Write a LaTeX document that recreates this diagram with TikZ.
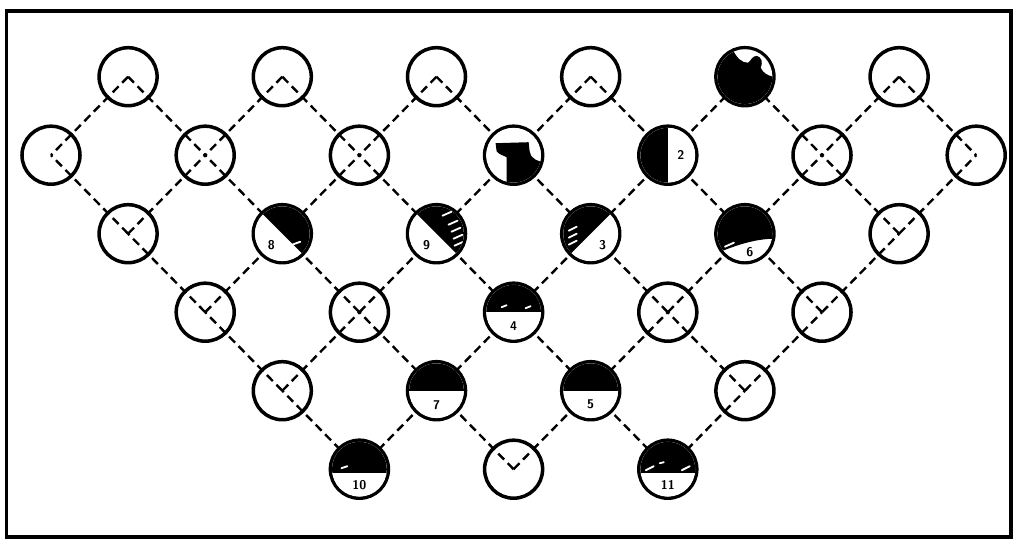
\documentclass[tikz,border=0pt]{standalone}
\usetikzlibrary{calc,backgrounds}
% dark part of a marked spot, drawn in the spot's own (pixel) frame
\newcommand{\markspot}[2]{%
  \begin{scope}[shift={(#1.center)}]
    \clip (0,0) circle[radius=0.685cm];
    \fill[white] (-35,-35) rectangle (35,35);
    #2
  \end{scope}}

\begin{document}
\begin{tikzpicture}[x=0.025cm,y=0.025cm]
	\tikzstyle{spot} = [circle, draw=black, line width=2.5pt, minimum size=1.45cm, inner sep=0pt];
	\tikzstyle{link} = [line width=1.7pt, dash pattern=on 6pt off 3.6pt];
	\tikzstyle{hatch} = [white, line width=1.3pt, line cap=round];
	\tikzstyle{num} = [font=\sffamily\bfseries\small, inner sep=0pt];
	\useasboundingbox (0,0) rectangle (1016,542);
	\draw[line width=2.5pt] (6.5,5) rectangle (1011,531);
	% the spots, row by row
	\foreach \r/\cols in {0/{1,3,5,7,9,11},1/{0,2,4,6,8,10,12},2/{1,3,5,7,9,11},3/{2,4,6,8,10},4/{3,5,7,9},5/{4,6,8}}
		\foreach \c in \cols
			\node (r\r c\c) [spot] at ({51+77.1*\c},{465.3-78.5*\r}) {};
	% dashed lattice behind the spots
	\begin{scope}[on background layer]
		\foreach \c in {1,3,5,7,9,11} {
			\pgfmathtruncatemacro{\lc}{\c-1}
			\pgfmathtruncatemacro{\rc}{\c+1}
			\draw[link] (r0c\c.center) -- (r1c\lc.center);
			\draw[link] (r0c\c.center) -- (r1c\rc.center);
		}
		\foreach \r/\ur/\cols in {2/1/{1,3,5,7,9,11},3/2/{2,4,6,8,10},4/3/{3,5,7,9},5/4/{4,6,8}}
			\foreach \c in \cols {
				\pgfmathtruncatemacro{\lc}{\c-1}
				\pgfmathtruncatemacro{\rc}{\c+1}
				\draw[link] (r\r c\c.center) -- (r\ur c\lc.center);
				\draw[link] (r\r c\c.center) -- (r\ur c\rc.center);
			}
	\end{scope}
	% marked spots
	\markspot{r0c9}{\fill (-35,-35) rectangle (35,35);
		\fill[white] (-14,35) -- (-12,27) .. controls (-8,19) and (-3,14) .. (3,14) .. controls (6,16) and (7,21) .. (12,21) .. controls (17,20) and (18,14) .. (16,9) .. controls (18,4) and (23,1) .. (29,0) -- (35,0) -- (35,35) -- cycle;}
	\markspot{r1c6}{\fill (-7,-35) -- (-7,-2) .. controls (-11,0) and (-15,1) .. (-17,4) -- (-18,12) -- (15,13) -- (16,4) .. controls (17,-3) and (22,-6) .. (35,-8) -- (35,-35) -- cycle;}
	\markspot{r1c8}{\fill (-35,-35) rectangle (0,35);}
	\markspot{r2c3}{\fill (-35,35) -- (35,-35) -- (35,35) -- cycle;
		\draw[hatch] (10,-11) -- ++(8,3);}
	\markspot{r2c5}{\fill (-35,35) -- (35,-35) -- (35,35) -- cycle;
		\foreach \hx/\hy in {6/18,12/9,15/2,17/-5,18/-12} \draw[hatch] (\hx,\hy) -- ++(9,4);}
	\markspot{r2c7}{\fill (-35,-35) -- (35,35) -- (-35,35) -- cycle;
		\foreach \hy in {3,-4,-11} \draw[hatch] (-22,\hy) -- ++(8,4);}
	\markspot{r2c9}{\fill (-35,35) -- (-35,-19) -- (-27,-19) .. controls (-10,-12) and (10,-5) .. (30,-5) -- (35,-5) -- (35,35) -- cycle;
		\draw[hatch] (-20,-13) -- ++(9,4);}
	\markspot{r3c6}{\fill (-35,0) rectangle (35,35);
		\draw[hatch] (-12,5) -- ++(5,2); \draw[hatch] (12,4) -- ++(5,2);}
	\markspot{r4c5}{\fill (-35,0) rectangle (35,35);}
	\markspot{r4c7}{\fill (-35,0) rectangle (35,35);}
	\markspot{r5c4}{\fill (-35,-4) rectangle (35,35);
		\draw[hatch] (-18,1) -- ++(6,2);}
	\markspot{r5c8}{\fill (-35,-4) rectangle (35,35);
		\draw[hatch] (-22,-1) -- ++(8,4); \draw[hatch] (14,-1) -- ++(8,4); \draw[hatch] (-8,6) -- ++(4,1);}
	% numbers
	\node (lab2) [num] at ($(r1c8)+(13,0)$) {2};
	\node (lab3) [num] at ($(r2c7)+(12,-11)$) {3};
	\node (lab4) [num] at ($(r3c6)+(0,-14)$) {4};
	\node (lab5) [num] at ($(r4c7)+(0,-14)$) {5};
	\node (lab6) [num] at ($(r2c9)+(5,-18)$) {6};
	\node (lab7) [num] at ($(r4c5)+(0,-14)$) {7};
	\node (lab8) [num] at ($(r2c3)+(-11,-11)$) {8};
	\node (lab9) [num] at ($(r2c5)+(-10,-11)$) {9};
	\node (lab10) [num] at ($(r5c4)+(0,-16)$) {10};
	\node (lab11) [num] at ($(r5c8)+(0,-16)$) {11};
\end{tikzpicture}
\end{document}
